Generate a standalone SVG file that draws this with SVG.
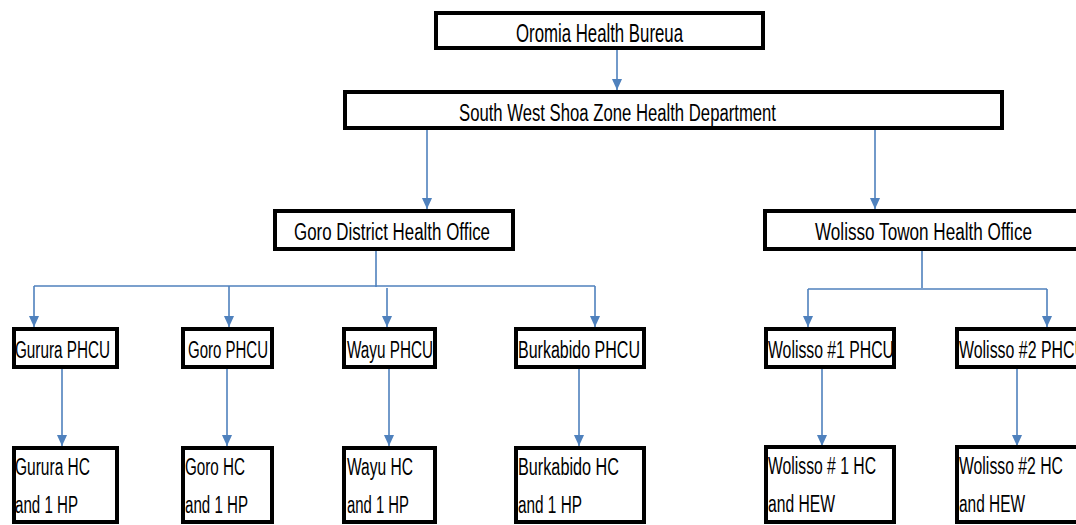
<svg xmlns="http://www.w3.org/2000/svg" width="1076" height="525" viewBox="0 0 1076 525">
<style>
.box{fill:#fff;stroke:#000;stroke-width:4}
.t{font-family:"Liberation Sans",Arial,sans-serif;font-size:23px;fill:#000}
.c{fill:none;stroke:#4F81BD;stroke-width:1.6}
</style>
<defs>
<marker id="a" markerUnits="userSpaceOnUse" markerWidth="11" markerHeight="13" refX="12" refY="5.5" orient="auto" viewBox="0 0 12 11">
<path d="M0,0 L12,5.5 L0,11 Z" fill="#4F81BD"/>
</marker>
</defs>
<rect width="1076" height="525" fill="#fff"/>
<g id="connectors">
<path class="c" d="M617,50 V90" marker-end="url(#a)"/>
<path class="c" d="M427,130 V209" marker-end="url(#a)"/>
<path class="c" d="M875,130 V209" marker-end="url(#a)"/>
<path class="c" d="M376,251 V287"/>
<path class="c" d="M34,286 H595"/>
<path class="c" d="M34,286 V327" marker-end="url(#a)"/>
<path class="c" d="M229,286 V327" marker-end="url(#a)"/>
<path class="c" d="M387,288 V327" marker-end="url(#a)"/>
<path class="c" d="M595,286 V327" marker-end="url(#a)"/>
<path class="c" d="M922,251 V288"/>
<path class="c" d="M808,289 H1047"/>
<path class="c" d="M808,289 V327" marker-end="url(#a)"/>
<path class="c" d="M1047,289 V327" marker-end="url(#a)"/>
<path class="c" d="M62,369 V446" marker-end="url(#a)"/>
<path class="c" d="M227,369 V446" marker-end="url(#a)"/>
<path class="c" d="M389,369 V446" marker-end="url(#a)"/>
<path class="c" d="M579,369 V446" marker-end="url(#a)"/>
<path class="c" d="M822,369 V446" marker-end="url(#a)"/>
<path class="c" d="M1017,369 V446" marker-end="url(#a)"/>
</g>
<g id="oromia"><rect class="box" x="436" y="13" width="327" height="35"/><text class="t" x="516" y="42" textLength="167" lengthAdjust="spacingAndGlyphs" style="font-size:25px">Oromia Health Bureua</text></g>
<g id="zone"><rect class="box" x="345" y="92" width="657" height="36"/><text class="t" x="459" y="121" textLength="317" lengthAdjust="spacingAndGlyphs">South West Shoa Zone Health Department</text></g>
<g id="goro-district"><rect class="box" x="275" y="211" width="238" height="38"/><text class="t" x="294" y="240" textLength="196" lengthAdjust="spacingAndGlyphs">Goro District Health Office</text></g>
<g id="wolisso-town"><rect class="box" x="765" y="211" width="320" height="38"/><text class="t" x="815" y="240" textLength="217" lengthAdjust="spacingAndGlyphs">Wolisso Towon Health Office</text></g>
<g id="gurura-phcu"><rect class="box" x="14" y="329" width="103" height="38"/><text class="t" x="15" y="358" textLength="95" lengthAdjust="spacingAndGlyphs">Gurura PHCU</text></g>
<g id="goro-phcu"><rect class="box" x="183" y="329" width="89" height="38"/><text class="t" x="188" y="358" textLength="80" lengthAdjust="spacingAndGlyphs">Goro PHCU</text></g>
<g id="wayu-phcu"><rect class="box" x="344" y="329" width="91" height="38"/><text class="t" x="347" y="358" textLength="86" lengthAdjust="spacingAndGlyphs">Wayu PHCU</text></g>
<g id="burkabido-phcu"><rect class="box" x="516" y="329" width="128" height="38"/><text class="t" x="518" y="358" textLength="122" lengthAdjust="spacingAndGlyphs">Burkabido PHCU</text></g>
<g id="wolisso1-phcu"><rect class="box" x="766" y="329" width="128" height="38"/><text class="t" x="768" y="358" textLength="126" lengthAdjust="spacingAndGlyphs">Wolisso #1 PHCU</text></g>
<g id="wolisso2-phcu"><rect class="box" x="957" y="329" width="130" height="38"/><text class="t" x="959" y="358" textLength="127" lengthAdjust="spacingAndGlyphs">Wolisso #2 PHCU</text></g>
<g id="gurura-hc"><rect class="box" x="14" y="448" width="103" height="74"/><text class="t" x="15" y="475" textLength="75" lengthAdjust="spacingAndGlyphs">Gurura HC</text><text class="t" x="15" y="513" textLength="63" lengthAdjust="spacingAndGlyphs">and 1 HP</text></g>
<g id="goro-hc"><rect class="box" x="183" y="448" width="89" height="74"/><text class="t" x="185" y="475" textLength="60" lengthAdjust="spacingAndGlyphs">Goro HC</text><text class="t" x="185" y="513" textLength="63" lengthAdjust="spacingAndGlyphs">and 1 HP</text></g>
<g id="wayu-hc"><rect class="box" x="344" y="448" width="91" height="74"/><text class="t" x="347" y="475" textLength="66" lengthAdjust="spacingAndGlyphs">Wayu HC</text><text class="t" x="347" y="513" textLength="62" lengthAdjust="spacingAndGlyphs">and 1 HP</text></g>
<g id="burkabido-hc"><rect class="box" x="516" y="448" width="128" height="74"/><text class="t" x="518" y="475" textLength="101" lengthAdjust="spacingAndGlyphs">Burkabido HC</text><text class="t" x="518" y="513" textLength="64" lengthAdjust="spacingAndGlyphs">and 1 HP</text></g>
<g id="wolisso1-hc"><rect class="box" x="766" y="447" width="128" height="75"/><text class="t" x="768" y="474" textLength="108" lengthAdjust="spacingAndGlyphs">Wolisso # 1 HC</text><text class="t" x="768" y="512" textLength="67" lengthAdjust="spacingAndGlyphs">and HEW</text></g>
<g id="wolisso2-hc"><rect class="box" x="957" y="447" width="130" height="75"/><text class="t" x="959" y="474" textLength="104" lengthAdjust="spacingAndGlyphs">Wolisso #2 HC</text><text class="t" x="959" y="512" textLength="66" lengthAdjust="spacingAndGlyphs">and HEW</text></g>
</svg>
